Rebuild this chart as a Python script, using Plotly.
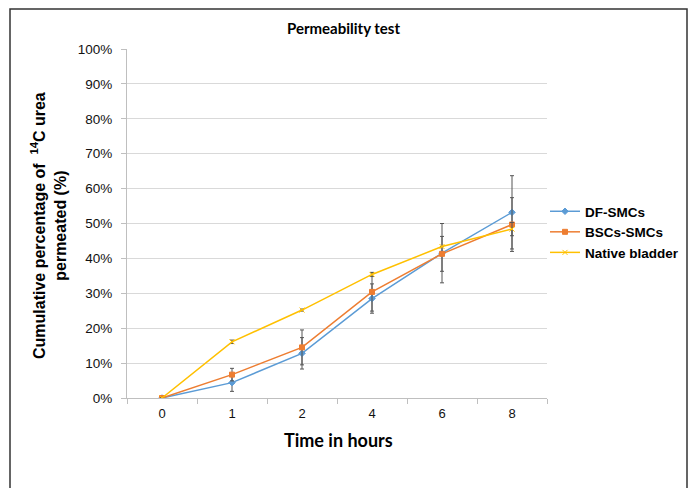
import plotly.graph_objects as go

hours = ["0", "1", "2", "4", "6", "8"]
df_smcs = [0.0, 0.044, 0.128, 0.285, 0.415, 0.532]
df_err = [0.0, 0.025, 0.045, 0.042, 0.085, 0.105]
bscs_smcs = [0.0, 0.067, 0.145, 0.304, 0.413, 0.497]
bscs_err = [0.0, 0.018, 0.05, 0.055, 0.05, 0.077]
native = [0.0, 0.161, 0.252, 0.354, 0.434, 0.484]
native_err = [0.0, 0.005, 0.003, 0.006, 0.0, 0.019]

L, R, T, B = 127, 547, 49, 398
W, H = 694, 488

def px(x):
    return (x - L) / (R - L)

def py(y):
    return (B - y) / (B - T)

fig = go.Figure()
series = [
    ("DF-SMCs", df_smcs, df_err, "#5B9BD5", "diamond"),
    ("BSCs-SMCs", bscs_smcs, bscs_err, "#ED7D31", "square"),
    ("Native bladder", native, native_err, "#FFC000", "x-thin-open"),
]
for name, vals, err, col, sym in series:
    fig.add_trace(go.Scatter(
        x=hours, y=vals, name="<b>" + name + "</b>", mode="lines+markers",
        line=dict(color=col, width=1.5),
        marker=dict(color=col, size=5, symbol=sym, line=dict(color=col, width=1)),
        error_y=dict(type="data", array=err, visible=True, color="#555555", thickness=1, width=2),
    ))

fig.update_layout(
    width=W, height=H,
    margin=dict(l=L, r=W - R, t=T, b=H - B, autoexpand=False),
    paper_bgcolor="white", plot_bgcolor="white",
    showlegend=True,
    legend=dict(x=px(545), y=py(196), xanchor="left", yanchor="top",
                font=dict(family="Arial", size=13.5, color="#000000"),
                bgcolor="rgba(0,0,0,0)", tracegroupgap=0, itemwidth=30),
    xaxis=dict(type="category", range=[-0.5, 5.5], showgrid=False,
               showline=True, linecolor="#bfbfbf", linewidth=1,
               ticks="outside", tickson="boundaries", ticklen=5, tickcolor="#bfbfbf",
               ticklabelstandoff=3,
               tickfont=dict(family="Arial", size=13, color="#111111")),
    yaxis=dict(range=[0, 1], dtick=0.1, tickformat=".0%",
               showgrid=True, gridcolor="#d9d9d9", gridwidth=1,
               zeroline=False, showline=True, linecolor="#bfbfbf", linewidth=1,
               ticks="outside", ticklen=5, tickcolor="#bfbfbf",
               ticklabelstandoff=6,
               tickfont=dict(family="Arial", size=13.5, color="#111111")),
    annotations=[
        dict(text="<b>Permeability test</b>", xref="paper", yref="paper",
             x=px(343), y=py(28), xanchor="center", yanchor="middle", showarrow=False,
             font=dict(family="Lato", size=15, color="#000000")),
        dict(text="<b>Time in hours</b>", xref="paper", yref="paper",
             x=px(338), y=py(440), xanchor="center", yanchor="middle", showarrow=False,
             font=dict(family="Lato", size=18, color="#000000")),
        dict(text="<b>Cumulative percentage of  <sup>14</sup>C urea<br>permeated (%)</b>",
             xref="paper", yref="paper", x=px(48), y=py(226), xanchor="center", yanchor="middle",
             showarrow=False, textangle=-90,
             font=dict(family="Arial", size=16, color="#000000")),
    ],
    shapes=[
        dict(type="rect", xref="paper", yref="paper",
             x0=px(10), x1=px(687), y0=py(9), y1=py(500),
             line=dict(color="#333333", width=1.5), fillcolor="rgba(0,0,0,0)", layer="below"),
    ],
)

fig.write_html("out.html", config={"displayModeBar": False},
               post_script="document.body.style.margin='0';")
